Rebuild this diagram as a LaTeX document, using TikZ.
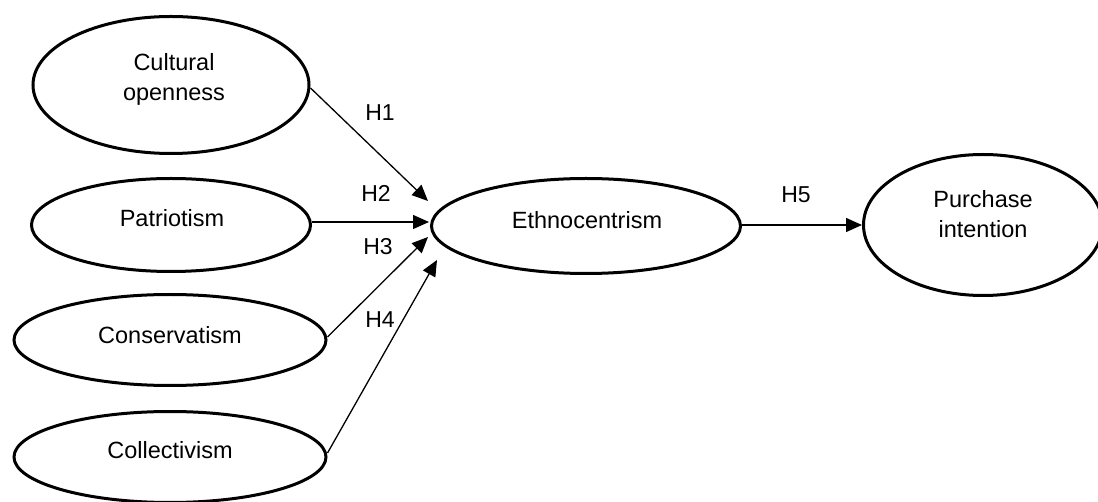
\documentclass[tikz,border=0pt]{standalone}
\usepackage{fontspec}
\setmainfont{Liberation Sans}
\usetikzlibrary{arrows.meta,shapes.geometric}
\begin{document}
\begin{tikzpicture}[x=1pt,y=-1pt,
  construct/.style={draw,ellipse,line width=3pt,inner sep=0pt,fill=none},
  ctext/.style={inner sep=0pt,align=center,font=\fontsize{23.5}{30}\selectfont},
  hlabel/.style={inner sep=0pt,font=\fontsize{23}{28}\selectfont},
  path/.style={line width=1.3pt,-{Triangle[length=16pt,width=14pt]}}]
\useasboundingbox (0,0) rectangle (1098,502);
% constructs
\node[construct,minimum width=276pt,minimum height=137pt] (co) at (171,85) {};
\node[construct,minimum width=279pt,minimum height=93pt] (pa) at (171,225) {};
\node[construct,minimum width=312pt,minimum height=91pt] (cs) at (170,340) {};
\node[construct,minimum width=312pt,minimum height=91pt] (cl) at (170,457) {};
\node[construct,minimum width=309pt,minimum height=95pt] (et) at (586,226) {};
\node[construct,minimum width=239pt,minimum height=141pt] (pi) at (983,225) {};
% texts
\node[ctext] (coT) at (174,79) {Cultural\\openness};
\node[ctext] (paT) at (172,218) {Patriotism};
\node[ctext] (csT) at (170,335) {Conservatism};
\node[ctext] (clT) at (170,450) {Collectivism};
\node[ctext] (etT) at (587,220) {Ethnocentrism};
\node[ctext] (piT) at (983,214) {Purchase\\intention};
% arrow targets
\coordinate (t1) at (428,201);
\coordinate (t2) at (429,222);
\coordinate (t3) at (428,237);
\coordinate (t4) at (437,260);
% connectors
\draw[path] (co.east) ++(0,3) -- (t1);
\draw[path] (pa.east) ++(0,-3) -- (t2);
\draw[path] (cs.east) ++(0,-3) -- (t3);
\draw[path] (cl.east) ++(0,-4) -- (t4);
\draw[path] (et.east) ++(0,-1) -- (pi.west);
% labels
\node[hlabel] (h1) at (380,113) {H1};
\node[hlabel] (h2) at (376,193) {H2};
\node[hlabel] (h3) at (378,247) {H3};
\node[hlabel] (h4) at (380,320) {H4};
\node[hlabel] (h5) at (796,195) {H5};
\end{tikzpicture}
\end{document}
